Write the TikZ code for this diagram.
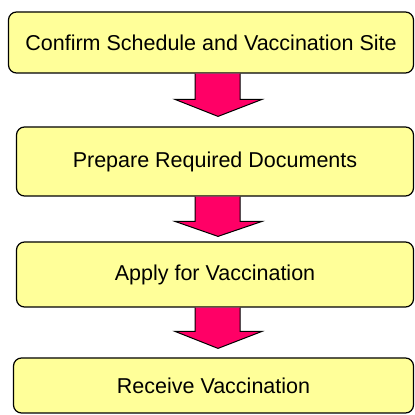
\documentclass[tikz,border=0pt]{standalone}
\usepackage{fontspec}
\setmainfont{Liberation Sans}
\usepackage{tikz}
\usetikzlibrary{calc}
\definecolor{stepyellow}{RGB}{255,255,153}
\definecolor{arrowred}{RGB}{255,0,102}
\tikzset{
  stepbox/.style={draw=black, line width=1.2pt, fill=stepyellow, rounded corners=8pt,
    inner sep=0pt, font=\fontsize{21.5}{25}\selectfont},
  bigarrow/.style={draw=black, line width=1pt, fill=arrowred, line join=miter}
}

\begin{document}
\begin{tikzpicture}[x=1pt,y=1pt]
\useasboundingbox (0,0) rectangle (415,415);
\node [stepbox, minimum width=405pt, minimum height=61pt] (confirm) at (211,372.5) {Confirm Schedule and Vaccination Site};
\node [stepbox, minimum width=397pt, minimum height=69pt] (prepare) at (215,253.5) {Prepare Required Documents};
\node [stepbox, minimum width=397pt, minimum height=65pt] (apply) at (215,140.5) {Apply for Vaccination};
\node [stepbox, minimum width=400pt, minimum height=55pt] (receive) at (213.5,29.5) {Receive Vaccination};
% block arrows between the steps
\draw [bigarrow] let \p1=(confirm.south), \p2=(prepare.north) in
  (195,\y1) -- (195,\y2+27) -- (175,\y2+27) -- (218,\y2+10) -- (262,\y2+27) -- (240,\y2+27) -- (240,\y1);
\draw [bigarrow] let \p1=(prepare.south), \p2=(apply.north) in
  (195,\y1) -- (195,\y2+20) -- (175,\y2+20) -- (218,\y2+5) -- (262,\y2+20) -- (240,\y2+20) -- (240,\y1);
\draw [bigarrow] let \p1=(apply.south), \p2=(receive.north) in
  (195,\y1) -- (195,\y2+26) -- (175,\y2+26) -- (218,\y2+9) -- (262,\y2+26) -- (240,\y2+26) -- (240,\y1);
\end{tikzpicture}
\end{document}
